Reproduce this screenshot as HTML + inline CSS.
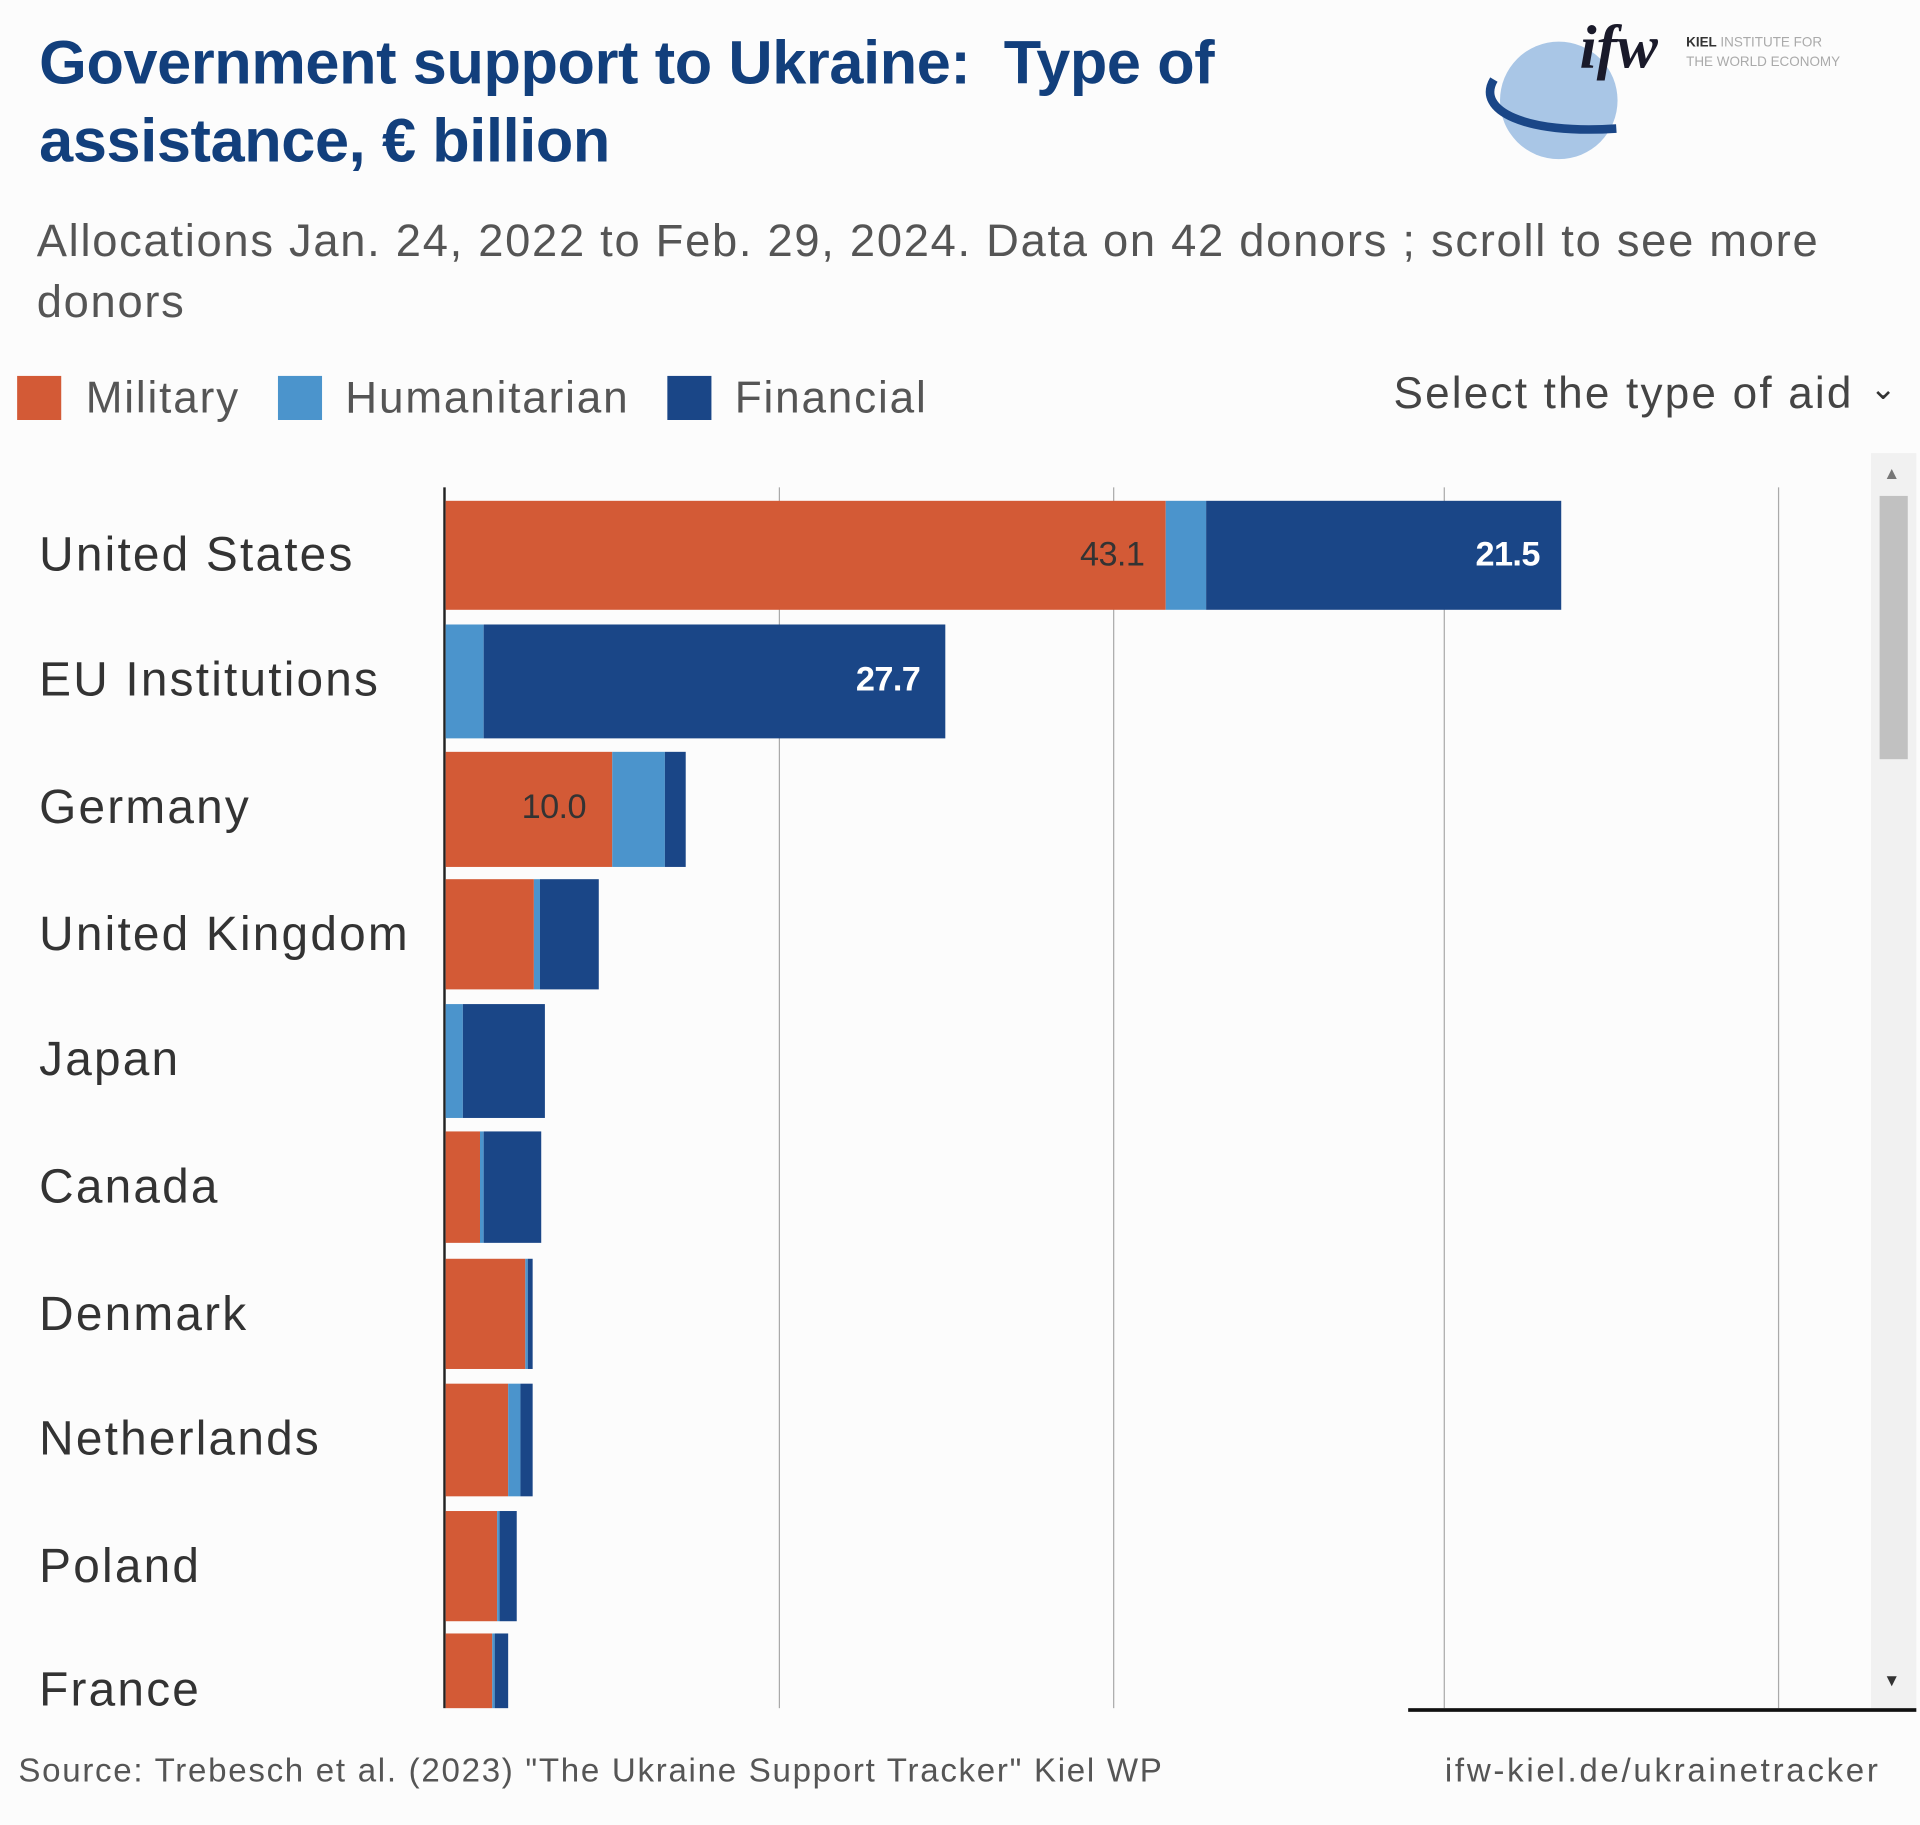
<!DOCTYPE html>
<html><head><meta charset="utf-8"><style>
html,body{margin:0;padding:0;background:#fcfcfc;}
body{width:1920px;height:1825px;overflow:hidden;}
#w{position:absolute;left:0;top:0;width:1568px;height:1490px;transform:scale(1.22449);transform-origin:0 0;font-family:"Liberation Sans",sans-serif;}
.a{position:absolute;white-space:nowrap;}
.t{font-weight:bold;color:#123f7c;font-size:50px;letter-spacing:-0.3px;}
.s{color:#555;font-size:37px;letter-spacing:1.4px;}
.lg{font-size:36px;color:#555;letter-spacing:1.5px;}
.sq{position:absolute;width:36px;height:36px;top:307px;}
.cl{font-size:39px;color:#333;left:32px;letter-spacing:1.8px;}
.b{position:absolute;}
.g{position:absolute;top:398px;height:997px;width:1px;background:#aaa;}
.m{background:#d35a36}.h{background:#4b94cc}.f{background:#1a4687}
.v{position:absolute;font-size:28px;letter-spacing:-0.5px;}
</style></head><body><div id="w">
<div class="a t" style="left:32px;top:22px;">Government support to Ukraine:&nbsp; Type of</div>
<div class="a t" style="left:32px;top:86px;">assistance, € billion</div>
<div class="a s" style="left:30px;top:176px;">Allocations Jan. 24, 2022 to Feb. 29, 2024. Data on 42 donors ; scroll to see more</div>
<div class="a s" style="left:30px;top:226px;">donors</div>
<svg class="a" style="left:1205px;top:10px" width="340" height="125">
<circle cx="68" cy="72" r="48" fill="#a9c6e6"/>
<path d="M15 55 C0 80 40 100 115 95" stroke="#1a4687" stroke-width="7" fill="none"/>
<text x="85" y="45" font-family="Liberation Serif" font-style="italic" font-weight="bold" font-size="50" fill="#1a1a2a">ifw</text>
<text x="172" y="28" font-size="11" font-weight="bold" fill="#333">KIEL</text>
<text x="200" y="28" font-size="11" fill="#aaa">INSTITUTE FOR</text>
<text x="172" y="44" font-size="11" fill="#aaa">THE WORLD ECONOMY</text>
</svg>
<div class="sq m" style="left:14px"></div><div class="a lg" style="left:70px;top:304px">Military</div>
<div class="sq h" style="left:227px"></div><div class="a lg" style="left:282px;top:304px">Humanitarian</div>
<div class="sq f" style="left:545px"></div><div class="a lg" style="left:600px;top:304px">Financial</div>
<div class="a lg" style="left:1138px;top:300px;color:#444;letter-spacing:1.8px">Select the type of aid</div>
<div class="a" style="left:1527px;top:302px;font-size:26px;color:#333">&#8964;</div>
<div class="g" style="left:636px"></div><div class="g" style="left:909px"></div><div class="g" style="left:1179px"></div><div class="g" style="left:1452px"></div>
<div class="g" style="left:362px;width:2px;background:#222"></div>
<div class="b m" style="left:364px;top:409px;width:588px;height:89px"></div><div class="b h" style="left:952px;top:409px;width:33px;height:89px"></div><div class="b f" style="left:985px;top:409px;width:290px;height:89px"></div>
<div class="v" style="left:882px;top:437px;color:#333">43.1</div><div class="v" style="left:1205px;top:437px;color:#fff;font-weight:bold">21.5</div>
<div class="b h" style="left:364px;top:510px;width:31px;height:93px"></div><div class="b f" style="left:395px;top:510px;width:377px;height:93px"></div>
<div class="v" style="left:699px;top:539px;color:#fff;font-weight:bold">27.7</div>
<div class="b m" style="left:364px;top:614px;width:136px;height:94px"></div><div class="b h" style="left:500px;top:614px;width:43px;height:94px"></div><div class="b f" style="left:543px;top:614px;width:17px;height:94px"></div>
<div class="v" style="left:426px;top:643px;color:#333">10.0</div>
<div class="b m" style="left:364px;top:718px;width:72px;height:90px"></div><div class="b h" style="left:436px;top:718px;width:5px;height:90px"></div><div class="b f" style="left:441px;top:718px;width:48px;height:90px"></div>
<div class="b h" style="left:364px;top:820px;width:14px;height:93px"></div><div class="b f" style="left:378px;top:820px;width:67px;height:93px"></div>
<div class="b m" style="left:364px;top:924px;width:28px;height:91px"></div><div class="b h" style="left:392px;top:924px;width:3px;height:91px"></div><div class="b f" style="left:395px;top:924px;width:47px;height:91px"></div>
<div class="b m" style="left:364px;top:1028px;width:65px;height:90px"></div><div class="b h" style="left:429px;top:1028px;width:2px;height:90px"></div><div class="b f" style="left:431px;top:1028px;width:4px;height:90px"></div>
<div class="b m" style="left:364px;top:1130px;width:51px;height:92px"></div><div class="b h" style="left:415px;top:1130px;width:10px;height:92px"></div><div class="b f" style="left:425px;top:1130px;width:10px;height:92px"></div>
<div class="b m" style="left:364px;top:1234px;width:42px;height:90px"></div><div class="b h" style="left:406px;top:1234px;width:2px;height:90px"></div><div class="b f" style="left:408px;top:1234px;width:14px;height:90px"></div>
<div class="b m" style="left:364px;top:1334px;width:38px;height:61px"></div><div class="b h" style="left:402px;top:1334px;width:2px;height:61px"></div><div class="b f" style="left:404px;top:1334px;width:11px;height:61px"></div>
<div class="a cl" style="top:432px">United States</div>
<div class="a cl" style="top:534px">EU Institutions</div>
<div class="a cl" style="top:638px">Germany</div>
<div class="a cl" style="top:742px">United Kingdom</div>
<div class="a cl" style="top:844px">Japan</div>
<div class="a cl" style="top:948px">Canada</div>
<div class="a cl" style="top:1052px">Denmark</div>
<div class="a cl" style="top:1154px">Netherlands</div>
<div class="a cl" style="top:1258px">Poland</div>
<div class="a cl" style="top:1359px">France</div>
<div class="b" style="left:1528px;top:370px;width:37px;height:1025px;background:#f1f1f1"></div>
<div class="b" style="left:1535px;top:405px;width:23px;height:215px;background:#c1c1c1"></div>
<div class="a" style="left:1538px;top:378px;font-size:14px;color:#777">▲</div>
<div class="a" style="left:1538px;top:1364px;font-size:14px;color:#333">▼</div>
<div class="b" style="left:1150px;top:1395px;width:415px;height:3px;background:#111"></div>
<div class="a" style="left:15px;top:1431px;font-size:27px;color:#555;letter-spacing:1.4px">Source: Trebesch et al. (2023) "The Ukraine Support Tracker" Kiel WP</div>
<div class="a" style="left:1180px;top:1431px;font-size:27px;color:#555;letter-spacing:2.2px">ifw-kiel.de/ukrainetracker</div>
</div></body></html>
